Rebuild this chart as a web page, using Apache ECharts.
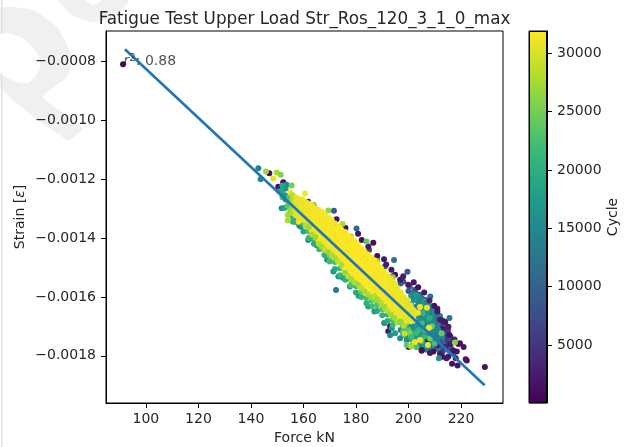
<!DOCTYPE html>
<html><head><meta charset="utf-8">
<style>html,body{margin:0;padding:0;background:#fff}#c{width:629px;height:447px}</style>
<script src="https://cdn.jsdelivr.net/npm/echarts@6/dist/echarts.min.js"></script>
</head><body><div id="c"></div>
<script>
const titleText = 'Fatigue Test Upper Load Str_Ros_120_3_1_0_max';
const xTicks = [100,120,140,160,180,200,220];
const yTicks = [-0.0018,-0.0016,-0.0014,-0.0012,-0.0010,-0.0008];
const cycleTicks = [5000,10000,15000,20000,25000,30000];
const fitForce = [92,229];
const fitStrainMicro = [-760,-1900];
const viridis = ['#440154','#482878','#3e4989','#31688e','#26828e','#1f9e89','#35b779','#6ece58','#b5de2b','#fde725'];

// [force kN, strain in microstrain, cycle]
const bluePoints = [
[198,-1548,8000],[200.5,-1565,9500],[202.5,-1576,7500],[204.4,-1593,8800],[206.3,-1610,10000],[208.2,-1633,7500],
[210.1,-1644,9200],[212,-1672,8000],[213.3,-1700,9500],[214.5,-1734,8200],[215.8,-1762,7200],[217.1,-1791,8400],
[215.2,-1780,9000],[213.3,-1757,6800],[211.4,-1734,9600],[210.7,-1700,7600],[208.8,-1667,10200],[206.9,-1644,9000],
[205,-1621,8400],[203.1,-1610,10200],[201.2,-1588,9300],[171.6,-1308,9000],[180.2,-1368,11000],[194.5,-1475,12000],
[199.6,-1515,9000],[208.3,-1599,12000],[215.6,-1672,12000],[172.4,-1577,12500],[142.8,-1164,14000],[156.8,-1345,12000],
[203,-1590,7000],[205,-1605,6500],[207,-1625,8000],[209,-1660,6000],[211,-1690,7000],[212.5,-1715,6500],[214,-1745,6000],
[216,-1775,7000],[210,-1720,9000],[208,-1690,10500],[206,-1660,11000],[204,-1640,12000],[209,-1775,7000],[206,-1765,8000],
[203,-1755,9000],[213,-1785,6500],[200,-1580,9000],[197,-1555,9500],[194,-1530,8000],[191,-1497,9000],[188,-1475,8000],[185,-1441,7000]
];
// [force kN, cycle, strains in microstrain at that force]
const clusterColumns = [
[198,17500,[-1690,-1708,-1725]],
[199,18500,[-1696,-1714,-1732]],
[200,16500,[-1700,-1718,-1735]],
[201,17500,[-1596,-1708,-1726,-1744]],
[202,15000,[-1590,-1608,-1700,-1718,-1735,-1750]],
[203,17000,[-1594,-1612,-1693,-1711,-1729,-1746,-1762]],
[204,15500,[-1600,-1618,-1650,-1668,-1700,-1718,-1735,-1752,-1770]],
[205,14500,[-1608,-1626,-1642,-1660,-1678,-1694,-1710,-1728,-1745,-1762]],
[206,17500,[-1615,-1632,-1650,-1668,-1685,-1702,-1720,-1738,-1755,-1772]],
[207,14000,[-1622,-1640,-1657,-1675,-1692,-1710,-1729,-1746,-1762,-1779]],
[208,16500,[-1630,-1648,-1665,-1682,-1700,-1718,-1735,-1752,-1770]],
[209,13000,[-1640,-1658,-1675,-1692,-1710,-1727,-1745,-1760,-1778]],
[210,16000,[-1650,-1667,-1684,-1701,-1718,-1736,-1752,-1770]],
[211,12000,[-1658,-1675,-1692,-1710,-1727,-1744,-1760,-1776]],
[212,14000,[-1665,-1682,-1700,-1718,-1735,-1750,-1768]],
[213,8000,[-1680,-1697,-1715,-1732,-1749,-1766]],
[214,11500,[-1695,-1712,-1730,-1748,-1765]],
[215,5000,[-1715,-1733,-1750,-1768]],
[216,7000,[-1735,-1752,-1770]]
];
const earlyPoints = [
[91.3,-811,300],[229.1,-1838,1500],[222.2,-1816,1200],[221.8,-1812,2000],[218.7,-1833,1800],[216.6,-1827,1500],
[218.4,-1785,2200],[217.1,-1782,1600],[215.2,-1802,1900],[215.6,-1729,1400],[215.2,-1701,2600],[213.5,-1684,1700],
[212,-1678,2400],[209.8,-1630,1800],[203.7,-1567,1500],[199.9,-1559,2100],[196.8,-1542,1700],[194.9,-1525,1300],
[190.7,-1472,1800],[188.1,-1461,1400],[186.6,-1416,1500],[184.7,-1429,1900],[182.2,-1407,1300],[180.8,-1386,1600],
[172.6,-1337,1200],[161.8,-1277,1500],[150.4,-1226,1700],[147,-1181,1400],[152.3,-1211,1100],[193,-1700,1500],
[192.3,-1717,2100],[205,-1783,1800],[209.5,-1785,1500],[212,-1793,2300],[214.5,-1808,1900],[219.6,-1757,1700],
[214,-1770,2800],[211,-1765,3200],[207,-1745,2600],[216,-1760,2400],[193.5,-1508,2100],[198,-1530,2500],
[202,-1550,2000],[206,-1585,2200],[208,-1612,3000],[211,-1650,2100],[213,-1708,2400],[191.5,-1490,2700],[176,-1366,1500],
[211,-1640,1800],[214,-1685,2200],[219,-1760,1500],[221,-1770,2000],[213,-1803,1700],[208.2,-1790,2000],[205.1,-1780,1600],
[217.5,-1745,2500],[218,-1808,1900],[200,-1770,2200]
];
const tealPoints = [
[143.7,-1201,15000],[211.6,-1808,16000],[158.4,-1358,14000],[193,-1730,15000],[190.8,-1689,17000],[203.1,-1633,14000],
[205.6,-1667,15500],[207.5,-1678,16000],[209.4,-1689,14500],[211.4,-1712,15000],[208.2,-1712,17000],[205.6,-1700,15800],
[203.7,-1678,16500],[210.7,-1746,14000],[208.8,-1746,16500],[206.9,-1768,15200],[201.8,-1752,17000],[199.3,-1746,16000],
[196.8,-1740,15500],[194.9,-1723,17500],[193.6,-1706,16200],[212.6,-1734,15000],[151.7,-1248,15000],[152.3,-1260,14500],
[151.7,-1299,16000],[161.8,-1407,15500],[163,-1401,17000],[173.3,-1531,15500],[171.4,-1514,16800],[177.7,-1565,17500],
[184.7,-1633,18000],[190.8,-1689,16500],[153.5,-1220,14500],[150.8,-1242,17000],[155,-1270,16000],[157.5,-1325,15000],
[201,-1625,14000],[203,-1652,15000],[204.5,-1683,16000],[206,-1700,14500],[207,-1725,15000],[209,-1725,14000],[205,-1735,16500],
[203,-1735,17000],[200,-1705,16000],[197,-1712,15000],[159,-1362,16000],[165,-1425,17000],[169,-1474,16000],[175,-1535,17000],
[181,-1596,16500],[187,-1650,17000],[153,-1298,18000],[155.5,-1298,17500]
];
const greenPoints = [
[156,-1345,20000],[160,-1378,19000],[162,-1400,21000],[164,-1420,19500],[166,-1438,21500],[168,-1458,20000],[170,-1480,22000],
[172,-1505,19500],[174,-1527,21000],[176,-1542,20000],[178,-1560,22500],[180,-1585,19500],[182,-1600,21000],[184,-1622,20500],
[186,-1632,22000],[188,-1648,19000],[190,-1662,21000],[192,-1682,20000],[194,-1695,21500],
[152,-1262,22000],[154,-1292,24000],[156,-1330,21000],[158,-1345,23000],[160,-1352,20000],[162,-1378,22500],[164,-1400,21500],
[166,-1420,23000],[168,-1440,20500],[170,-1461,24000],[172,-1482,22000],[174,-1503,21000],[176,-1520,23500],[178,-1540,22000],
[180,-1563,20500],[182,-1582,24500],[184,-1604,22000],[186,-1612,21500],[188,-1628,23000],[190,-1642,22500],[192,-1660,20500],
[194,-1678,22000],[196,-1686,24000],[198,-1700,21000],[200,-1712,23500],[155,-1312,25000],[159,-1332,26000],[163,-1375,25000],
[167,-1418,26000],[171,-1458,25500],[175,-1500,26500],[179,-1538,25000],[183,-1575,26000],[187,-1612,25500],[191,-1640,26500],
[195,-1665,25000],[199,-1690,26000],[200.6,-1723,25500],
[198,-1717,23000],[201.8,-1757,26500],[199.3,-1763,24000],[217.7,-1755,26000],[212.6,-1723,24000],[208.2,-1740,25000],
[145.7,-1175,27000],[149.8,-1178,27500],[151.3,-1186,26000],[155.5,-1222,25000],[169.5,-1307,26500],[174.9,-1352,28000],
[184,-1412,24000],[154,-1322,27500],[154,-1341,28000],[178,-1395,26000],[188,-1478,27000],[194,-1533,26500],[164,-1288,25500],
[205,-1690,22000],[209,-1700,24000],[206,-1735,21000],[203,-1770,23000],[210,-1758,22500],[204,-1712,20500],
[205.5,-1655,21000],[208,-1672,20000],[206.5,-1712,22500],[203,-1722,21500],[201,-1736,22000],[205,-1750,23500]
];
const lateColumns = [
[148.5,30500,[-1198]],
[152,19000,[-1222,-1240,-1251]],
[153.2,16500,[-1232,-1256,-1270]],
[154.5,23000,[-1262,-1279]],
[155,31000,[-1247]],
[155.8,28000,[-1255,-1270,-1286,-1300,-1315]],
[157,30500,[-1262,-1276,-1291,-1305,-1322]],
[158.2,30800,[-1268,-1283,-1297,-1313,-1330,-1345]],
[160.6,31500,[-1249]],
[159.5,31000,[-1270,-1288,-1303,-1320,-1338]],
[160.8,31100,[-1278,-1294,-1310,-1327,-1344]],
[162,31200,[-1283,-1299,-1316,-1333,-1350]],
[163.2,31300,[-1291,-1307,-1324,-1341,-1358,-1374]],
[164.5,31400,[-1299,-1314,-1332,-1349,-1366,-1382]],
[165.8,31400,[-1305,-1322,-1339,-1356,-1373,-1390,-1406]],
[167,31500,[-1312,-1330,-1346,-1363,-1381,-1397,-1414]],
[168.2,31500,[-1322,-1338,-1355,-1372,-1390,-1406,-1423]],
[169.5,31600,[-1332,-1347,-1365,-1382,-1399,-1416,-1431]],
[170.8,31600,[-1340,-1357,-1374,-1391,-1408,-1424,-1442]],
[172,31700,[-1351,-1368,-1384,-1401,-1418,-1434,-1452]],
[173.2,31700,[-1362,-1378,-1395,-1412,-1430,-1446,-1463]],
[174.5,31700,[-1373,-1390,-1406,-1423,-1441,-1457,-1474]],
[175.8,31800,[-1380,-1399,-1416,-1433,-1450,-1468,-1484,-1502]],
[177,31800,[-1392,-1409,-1427,-1443,-1460,-1478,-1494,-1511]],
[178.2,31800,[-1402,-1419,-1437,-1453,-1470,-1488,-1504,-1522]],
[179.5,31800,[-1411,-1430,-1447,-1463,-1481,-1498,-1514,-1533]],
[180.8,31800,[-1424,-1440,-1458,-1474,-1492,-1509,-1526,-1543]],
[182,31800,[-1436,-1453,-1469,-1486,-1503,-1520,-1538,-1555]],
[183.2,31800,[-1446,-1463,-1480,-1497,-1514,-1531,-1548,-1565]],
[184.5,31800,[-1456,-1473,-1490,-1506,-1524,-1541,-1558,-1574]],
[185.8,31700,[-1466,-1484,-1500,-1518,-1535,-1552,-1568,-1585]],
[187,31700,[-1476,-1494,-1510,-1528,-1545,-1561,-1579]],
[188.2,31600,[-1490,-1507,-1524,-1541,-1558,-1575,-1592]],
[189.5,31600,[-1503,-1519,-1537,-1553,-1571,-1588,-1604]],
[190.8,31500,[-1515,-1532,-1549,-1566,-1583,-1600,-1617]],
[192,31500,[-1527,-1545,-1561,-1578,-1596,-1612,-1630]],
[193.2,31300,[-1540,-1558,-1575,-1592,-1609,-1626,-1643]],
[194.5,31200,[-1554,-1571,-1588,-1605,-1622,-1640,-1656]],
[195.8,31100,[-1570,-1586,-1603,-1620,-1637,-1654,-1670]],
[197,31000,[-1585,-1601,-1618,-1635,-1652,-1669]],
[198.2,30900,[-1600,-1616,-1633,-1650,-1667,-1684]],
[199.5,30800,[-1612,-1630,-1647,-1664,-1682]],
[200.8,30600,[-1628,-1646,-1663,-1680]],
[202,30500,[-1645,-1662,-1680]]
];
const fringePoints = [
[160.8,-1358,28500],[162,-1364,27500],[163.2,-1388,28000],[164.5,-1398,27000],[165.8,-1420,28500],[167,-1430,27500],[168.2,-1441,29000],
[169.5,-1449,27000],[170.8,-1459,28000],[172,-1468,27500],[173.2,-1480,29000],[174.5,-1492,28000],[175.8,-1518,27000],[177,-1530,28500],
[178.2,-1540,27500],[179.5,-1551,28000],[180.8,-1560,27000],[182,-1570,29000],[183.2,-1582,27500],[184.5,-1592,28000],[185.8,-1602,27000],
[187,-1597,28500],[188.2,-1609,27500],[189.5,-1622,28000],[190.8,-1634,27000],[192,-1648,28500],[193.2,-1660,27500],[194.5,-1672,27000],
[195.8,-1684,28000],[197,-1684,26500],[198.2,-1698,28000],
[204.4,-1634,31000],[203.6,-1654,31200],[207,-1637,31000],[207.8,-1705,31300],[202.5,-1753,30800],[207.4,-1763,31000],[204.4,-1746,31200],
[201,-1768,27500],[198.5,-1725,29000]
];

const scatterData = [];
const addRows = g=>g.forEach(p=>scatterData.push([p[0],p[1]/1e6,p[2]]));
const addCols = g=>g.forEach(c=>c[2].forEach(s=>scatterData.push([c[0],s/1e6,c[1]])));
addRows(bluePoints); addCols(clusterColumns); addRows(earlyPoints); addRows(tealPoints); addRows(greenPoints);
addCols(lateColumns); addRows(fringePoints);
const fitLine = fitForce.map((f,i)=>[f,fitStrainMicro[i]/1e6]);

const tc = '#262626';
const font = 'DejaVu Sans';
const chart = echarts.init(document.getElementById('c'),null,{renderer:'canvas'});
const wm = '#f0f0f0';
chart.setOption({
 animation:false,
 backgroundColor:'#fff',
 textStyle:{fontFamily:font},
 title:{text:titleText,left:299.5,top:6,textAlign:'center',textStyle:{fontFamily:font,fontSize:16.8,fontWeight:'normal',color:tc}},
 graphic:[
  {type:'polygon',z:-10,silent:true,shape:{smooth:0.15,points:[[0,8],[33,10],[57,27],[72,57],[67,77],[43,97],[83,128],[68,140],[0,87]]},style:{fill:wm}},
  {type:'polygon',z:-9,silent:true,shape:{smooth:0.3,points:[[0,35],[20,37],[35,50],[40,67],[27,83],[0,72]]},style:{fill:'#fff'}},
  {type:'polygon',z:-10,silent:true,shape:{smooth:0.2,points:[[57,-2],[72,15],[93,22],[117,15],[130,-2],[107,-2],[93,5],[80,-2]]},style:{fill:wm}},
  {type:'rect',z:-10,silent:true,shape:{x:1,y:0,width:1.5,height:447},style:{fill:'#e0e0e0'}}
 ],
 grid:[
  {left:106,top:31,width:397,height:372,outerBoundsMode:'none',show:true,borderColor:'#000',borderWidth:1,backgroundColor:'transparent'},
  {left:529,top:31,width:18,height:372,outerBoundsMode:'none',show:true,borderColor:'#000',borderWidth:1}
 ],
 xAxis:[
  {type:'value',gridIndex:0,min:84.8,max:236,name:'Force kN',nameLocation:'middle',nameGap:28,nameMoveOverlap:false,
   nameTextStyle:{fontFamily:font,fontSize:14,color:tc},splitLine:{show:false},
   axisLine:{show:true,lineStyle:{color:'#000'}},
   axisTick:{show:true,length:5,customValues:xTicks,lineStyle:{color:'#000'}},
   axisLabel:{customValues:xTicks,color:tc,fontSize:14,fontFamily:font,margin:9,formatter:v=>String(v)}},
  {type:'category',gridIndex:1,data:[''],show:false}
 ],
 yAxis:[
  {type:'value',gridIndex:0,min:-0.00196,max:-0.000698,splitLine:{show:false},
   axisLine:{show:true,lineStyle:{color:'#000'}},
   axisTick:{show:true,length:5,customValues:yTicks,lineStyle:{color:'#000'}},
   axisLabel:{customValues:yTicks,color:tc,fontSize:14,fontFamily:font,margin:10,formatter:v=>'\u2212'+Math.abs(v).toFixed(4)},
   name:'{t|Strain [}{i|\u03b5}{t|]}',nameLocation:'middle',nameGap:79,nameRotate:90,nameMoveOverlap:false,
   nameTextStyle:{rich:{t:{fontFamily:font,fontSize:14,color:tc},i:{fontFamily:font,fontSize:14,fontStyle:'italic',color:tc}}}},
  {type:'value',gridIndex:1,position:'right',min:25,max:31900,splitLine:{show:false},
   axisLine:{show:true,lineStyle:{color:'#000'}},
   axisTick:{show:true,length:5,customValues:cycleTicks,lineStyle:{color:'#000'}},
   axisLabel:{customValues:cycleTicks,color:tc,fontSize:14,fontFamily:font,margin:10,formatter:v=>String(v)},
   name:'Cycle',nameLocation:'middle',nameGap:59,nameRotate:90,nameMoveOverlap:false,
   nameTextStyle:{fontFamily:font,fontSize:14,color:tc}}
 ],
 visualMap:[{show:false,type:'continuous',seriesIndex:0,dimension:2,min:25,max:31900,inRange:{color:viridis}}],
 series:[
  {type:'scatter',xAxisIndex:0,yAxisIndex:0,data:scatterData,symbolSize:6,itemStyle:{opacity:1},z:3,silent:true,large:false},
  {type:'line',xAxisIndex:0,yAxisIndex:0,data:fitLine,symbol:'none',lineStyle:{color:'#1f77b4',width:2.6},z:4,silent:true},
  {type:'scatter',xAxisIndex:0,yAxisIndex:0,data:[[91.5,-0.0008]],symbolSize:0,z:5,silent:true,
   label:{show:true,position:'right',distance:0,formatter:'{r|r}{s|2}{t|: 0.88}',
     rich:{r:{fontFamily:font,fontSize:14,fontStyle:'italic',color:tc},s:{fontFamily:font,fontSize:10,color:tc,verticalAlign:'top',padding:[0,0,6,0]},t:{fontFamily:font,fontSize:14,color:tc}}}},
  {type:'bar',xAxisIndex:1,yAxisIndex:1,data:[31900],barWidth:'100%',silent:true,z:1,
   itemStyle:{borderColor:'#000',borderWidth:1,color:{type:'linear',x:0,y:1,x2:0,y2:0,colorStops:viridis.map((c,i)=>({offset:i/(viridis.length-1),color:c}))}}}
 ]
});
</script></body></html>
